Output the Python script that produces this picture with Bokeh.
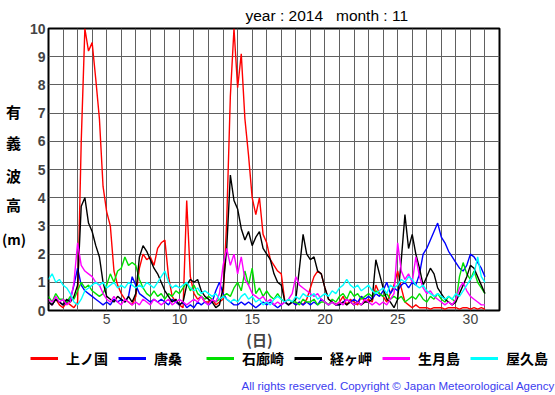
import numpy as np
from bokeh.plotting import figure
from bokeh.layouts import column, row
from bokeh.models import Range1d, FixedTicker, Legend, LegendItem, ColumnDataSource, Title, Label
from bokeh.embed import file_html
from bokeh.resources import INLINE

# ---------------- data (6-hourly, Nov 1 00h .. Dec 1 00h) ----------------
hour = np.arange(0, 721, 6)
day = 1 + hour / 24.0

names = ["上ノ国", "唐桑", "石廊崎", "経ヶ岬", "生月島", "屋久島"]
colors = ["#ff0000", "#0000ff", "#00e000", "#000000", "#ff00ff", "#00ffff"]

kaminokuni = [
    0.3, 0.2, 0.4, 0.2,  0.1, 0.3, 0.2, 0.1,  0.3, 6.0, 10.0, 9.2,  9.5, 8.2, 6.8, 4.4,
    3.5, 3.0, 1.4, 0.9,  0.6, 0.4, 0.3, 0.2,  0.5, 1.5, 2.0, 1.8,  1.9, 1.6, 2.2, 2.4,
    2.5, 1.2, 0.5, 0.3,  0.2, 0.1, 3.9, 1.2,  0.6, 0.4, 0.5, 0.3,  0.3, 0.4, 0.2, 0.3,
    0.4, 3.2, 7.6, 10.0, 7.9, 9.1, 6.8, 5.5,  4.0, 3.4, 4.0, 2.7,  2.4, 1.8, 1.6, 1.4,
    1.3, 0.3, 0.2, 0.3,  0.2, 0.3, 0.2, 0.4,  0.8, 1.2, 1.4, 1.3,  0.8, 0.4, 0.3, 0.2,
    0.3, 0.5, 0.2, 0.4,  0.3, 0.2, 0.5, 0.3,  0.4, 0.3, 0.9, 0.6,  0.5, 0.3, 0.6, 0.9,
    1.4, 0.8, 0.3, 0.2,  0.1, 0.2, 0.1, 0.1,  0.1, 0.05, 0.1, 0.1,  0.1, 0.05, 0.1, 0.1,
    0.1, 0.05, 0.1, 0.1,  0.05, 0.1, 0.05, 0.1,  0.05,
]
karakuwa = [
    0.3, 0.2, 0.4, 0.3,  0.2, 0.3, 0.4, 0.9,  1.5, 0.9, 0.7, 0.6,  0.5, 0.4, 0.3, 0.2,
    0.3, 0.2, 0.4, 0.3,  0.4, 0.3, 0.5, 1.2,  0.9, 0.6, 0.5, 0.4,  0.3, 0.4, 0.3, 0.4,
    0.3, 0.2, 0.4, 0.3,  0.2, 0.3, 0.1, 0.2,  0.1, 0.3, 0.2, 0.3,  0.2, 0.3, 0.7, 1.0,
    0.6, 0.4, 0.3, 0.2,  0.2, 0.3, 0.2, 0.3,  0.2, 0.1, 0.2, 0.3,  0.2, 0.3, 0.2, 0.1,
    0.2, 0.3, 0.2, 0.3,  0.2, 0.3, 0.2, 0.3,  0.2, 0.3, 0.2, 0.4,  0.3, 0.2, 0.3, 0.2,
    0.2, 0.3, 0.4, 0.3,  0.4, 0.3, 0.5, 0.4,  0.5, 0.4, 0.6, 0.5,  0.7, 1.0, 0.6, 0.8,
    0.7, 0.9, 1.0, 0.8,  1.0, 0.9, 1.3, 2.0,  2.2, 2.5, 2.8, 3.1,  2.6, 2.4, 2.1, 1.9,
    1.7, 1.5, 1.4, 1.6,  2.0, 1.9, 1.7, 1.5,  1.2,
]
irozaki = [
    0.5, 0.3, 0.6, 0.4,  0.4, 0.3, 0.5, 0.4,  0.7, 1.0, 0.8, 0.9,  0.7, 0.6, 0.5, 0.6,
    0.9, 1.3, 1.0, 1.4,  1.5, 1.9, 1.6, 1.7,  1.6, 1.1, 0.8, 0.6,  0.5, 0.7, 0.5, 0.6,
    0.4, 0.6, 0.5, 0.7,  0.6, 0.8, 1.0, 0.7,  0.9, 0.6, 0.5, 0.4,  0.5, 0.4, 0.3, 0.4,
    0.5, 0.6, 0.5, 0.8,  1.0, 0.7, 1.4, 0.9,  1.5, 0.6, 0.8, 0.5,  0.7, 0.5, 0.4, 0.6,
    0.4, 0.3, 0.4, 0.3,  0.3, 0.2, 0.4, 0.3,  0.3, 0.4, 0.2, 0.3,  0.3, 0.2, 0.4, 0.3,
    0.5, 0.6, 0.4, 0.7,  0.5, 0.6, 0.4, 0.5,  0.6, 0.5, 0.7, 0.6,  0.5, 0.6, 0.4, 0.5,
    0.4, 0.5, 0.3, 0.4,  0.5, 0.4, 0.6, 0.4,  0.3, 0.5, 0.4, 0.6,  0.4, 0.3, 0.5, 0.4,
    0.3, 1.2, 1.7, 1.3,  1.1, 1.4, 1.0, 0.8,  0.6,
]
kyogamisaki = [
    0.3, 0.2, 0.4, 0.3,  0.2, 0.4, 0.3, 0.5,  0.9, 3.7, 4.0, 3.1,  2.8, 2.3, 1.9, 1.0,
    0.5, 0.4, 0.3, 0.5,  0.4, 0.3, 0.5, 0.3,  0.6, 1.9, 2.3, 2.1,  1.8, 1.5, 1.3, 1.0,
    0.7, 0.5, 0.3, 0.4,  0.2, 0.3, 0.9, 1.1,  1.0, 1.1, 0.7, 0.5,  0.4, 0.3, 0.1, 0.2,
    0.8, 2.2, 4.8, 3.9,  3.6, 2.9, 2.5, 2.8,  2.3, 2.6, 2.8, 2.2,  2.0, 1.8, 1.3, 1.0,
    0.9, 0.3, 0.2, 0.3,  0.4, 1.5, 2.7, 2.0,  1.8, 1.9, 1.4, 1.3,  0.8, 0.4, 0.3, 0.2,
    0.2, 0.3, 0.2, 0.3,  0.2, 0.3, 0.2, 0.3,  0.3, 0.4, 1.8, 1.3,  0.8, 0.4, 0.3, 0.1,
    0.4, 1.8, 3.4, 2.2,  2.7, 2.0, 1.5, 0.9,  1.2, 1.5, 1.3, 0.8,  0.6, 0.4, 0.3, 0.2,
    0.3, 0.6, 0.9, 1.2,  1.6, 1.5, 1.2, 0.9,  0.6,
]
ikitsukishima = [
    0.4, 0.3, 0.5, 0.3,  0.4, 0.2, 0.3, 1.0,  2.4, 1.6, 1.4, 1.3,  1.2, 1.0, 0.9, 0.6,
    0.4, 0.3, 0.5, 0.3,  0.2, 0.4, 0.3, 0.2,  0.3, 0.2, 0.4, 0.3,  0.2, 0.4, 0.3, 0.2,
    0.3, 0.4, 0.2, 0.3,  0.4, 0.3, 0.2, 0.3,  0.4, 0.3, 0.5, 0.3,  0.2, 0.4, 0.3, 0.6,
    1.6, 2.2, 1.6, 2.0,  1.3, 1.9, 1.1, 0.9,  0.6, 0.5, 0.4, 0.5,  0.3, 0.4, 0.2, 0.3,
    0.2, 0.3, 0.4, 0.6,  1.2, 0.9, 0.8, 0.7,  0.6, 0.5, 0.6, 0.4,  0.3, 0.2, 0.3, 0.2,
    0.3, 0.2, 0.4, 0.3,  0.2, 0.3, 0.2, 0.4,  0.3, 0.2, 0.3, 0.2,  0.3, 0.2, 0.4, 0.6,
    2.4, 1.4, 1.1, 1.3,  1.0, 1.9, 1.2, 0.8,  0.6, 0.7, 0.5, 0.4,  0.3, 0.2, 0.3, 0.2,
    0.4, 0.8, 1.0, 0.7,  0.5, 0.4, 0.3, 0.2,  0.2,
]
yakushima = [
    1.1, 1.3, 1.0, 1.1,  0.9, 0.8, 0.6, 0.3,  0.2, 0.4, 0.7, 0.8,  0.9, 1.0, 0.9, 1.0,
    0.8, 0.9, 1.0, 0.8,  0.9, 0.8, 1.0, 0.9,  0.8, 0.9, 0.8, 1.0,  0.9, 0.8, 1.0, 1.2,
    1.4, 1.0, 0.8, 0.9,  0.8, 0.9, 1.0, 0.8,  0.7, 0.8, 0.6, 0.7,  0.6, 0.5, 0.6, 0.4,
    0.5, 0.4, 0.3, 0.4,  0.3, 0.5, 0.6, 0.4,  0.5, 0.3, 0.4, 0.2,  0.3, 0.2, 0.4, 0.5,
    0.4, 0.3, 0.4, 0.3,  0.5, 0.4, 0.6, 0.5,  0.5, 0.6, 0.4, 0.5,  0.6, 0.5, 0.7, 0.6,
    0.8, 0.9, 1.1, 0.9,  0.8, 0.9, 0.7, 0.8,  0.9, 0.7, 0.6, 0.7,  0.8, 0.6, 0.9, 0.8,
    0.9, 1.1, 1.0, 1.2,  1.1, 0.9, 0.8, 0.9,  0.7, 0.6, 0.5, 0.6,  0.5, 0.4, 0.5, 0.4,
    0.6, 0.5, 0.7, 0.9,  1.1, 1.3, 1.9, 1.2,  1.0,
]
series = [kaminokuni, karakuwa, irozaki, kyogamisaki, ikitsukishima, yakushima]

x_tick_days = [5, 10, 15, 20, 25, 30]
y_ticks = list(range(0, 11))
title_text = "year : 2014 \u00a0 month : 11"
ylabel_chars = ["有", "義", "波", "高", "(m)"]
xlabel_text = "(日)"
copyright_text = "All rights reserved. Copyright © Japan Meteorological Agency"

# ---------------- left strip: stacked y label ----------------
LW = 26
side = figure(width=LW, height=330, x_range=Range1d(0, LW), y_range=Range1d(330, 0),
              output_backend="svg", toolbar_location=None, title=None,
              x_axis_type=None, y_axis_type=None,
              min_border_left=0, min_border_right=0, min_border_top=0, min_border_bottom=0)
side.frame_align = False
side.outline_line_color = None
side.xgrid.visible = False
side.ygrid.visible = False
for ch, cx, cy, fs in zip(ylabel_chars, [13, 13, 13, 13, 13.5],
                          [111, 142, 175, 204, 238],
                          ["15px", "15px", "15px", "15px", "14px"]):
    side.add_layout(Label(x=cx, y=cy, text=ch, text_align="center", text_baseline="middle",
                          text_font="Noto Sans CJK JP", text_font_size=fs,
                          text_font_style="bold", text_color="black"))

# ---------------- main chart ----------------
p = figure(width=555 - LW, height=330, x_range=Range1d(1, 32), y_range=Range1d(0, 10),
           output_backend="svg", toolbar_location=None, title=None,
           min_border_left=45 - LW, min_border_right=56, min_border_top=27, min_border_bottom=20)
p.frame_align = False
p.background_fill_color = "white"
p.border_fill_color = "white"
p.outline_line_color = "black"
p.outline_line_width = 2

p.xaxis.ticker = FixedTicker(ticks=x_tick_days)
p.yaxis.ticker = FixedTicker(ticks=y_ticks)
p.xgrid.ticker = FixedTicker(ticks=list(range(1, 33)))
p.ygrid.ticker = FixedTicker(ticks=y_ticks)
for g in (p.xgrid, p.ygrid):
    g.grid_line_color = "#606060"
    g.grid_line_width = 1
    g.grid_line_alpha = 1.0

for ax in (p.xaxis, p.yaxis):
    ax.axis_line_color = None
    ax.major_tick_line_color = None
    ax.minor_tick_line_color = None
    ax.major_tick_out = 0
    ax.major_tick_in = 0
p.xaxis.major_label_text_font = "Liberation Sans"
p.xaxis.major_label_text_font_size = "14px"
p.xaxis.major_label_standoff = 3
p.yaxis.major_label_text_font = "Liberation Sans"
p.yaxis.major_label_text_font_size = "14px"
p.yaxis.major_label_text_font_style = "bold"
p.yaxis.major_label_standoff = 3

for nm, col, vals in zip(names, colors, series):
    src = ColumnDataSource(dict(day=day, h=vals))
    p.line("day", "h", source=src, line_color=col, line_width=1.4)

p.add_layout(Title(text=title_text, align="left", offset=197, standoff=9,
                   text_font="Liberation Sans", text_font_size="15.5px",
                   text_font_style="normal", text_color="black"), "above")

# ---------------- footer: (日), legend, copyright ----------------
f = figure(width=555, height=65, x_range=Range1d(0, 555), y_range=Range1d(395, 330),
           output_backend="svg", toolbar_location=None, title=None,
           x_axis_type=None, y_axis_type=None,
           min_border_left=0, min_border_right=0, min_border_top=0, min_border_bottom=0)
f.frame_align = False
f.outline_line_color = None
f.background_fill_color = "white"
f.border_fill_color = "white"
f.xgrid.visible = False
f.ygrid.visible = False

f.add_layout(Label(x=259, y=339, text=xlabel_text, text_align="center",
                   text_baseline="middle", text_font="Noto Sans CJK JP",
                   text_font_size="15px", text_font_style="bold"))
f.add_layout(Label(x=241, y=385, text=copyright_text, text_align="left",
                   text_baseline="middle", text_font="Liberation Sans",
                   text_font_size="11.5px", text_color="#3c3cf0"))

items = []
for nm, col in zip(names, colors):
    proxy = f.line(x=[np.nan, np.nan], y=[np.nan, np.nan], line_color=col, line_width=3)
    items.append(LegendItem(label=nm, renderers=[proxy]))
legend = Legend(items=items, orientation="horizontal", location=(30, 27),
                glyph_width=28, glyph_height=20, label_standoff=8,
                label_width=42, label_height=20, padding=0, margin=0, spacing=10,
                border_line_color=None, background_fill_alpha=0,
                label_text_font="Noto Sans CJK JP", label_text_font_size="14px",
                label_text_font_style="bold", label_text_color="black")
f.add_layout(legend, "center")

layout = column(row(side, p, spacing=0), f, spacing=0)
open("out.html", "w").write(file_html(layout, INLINE))
